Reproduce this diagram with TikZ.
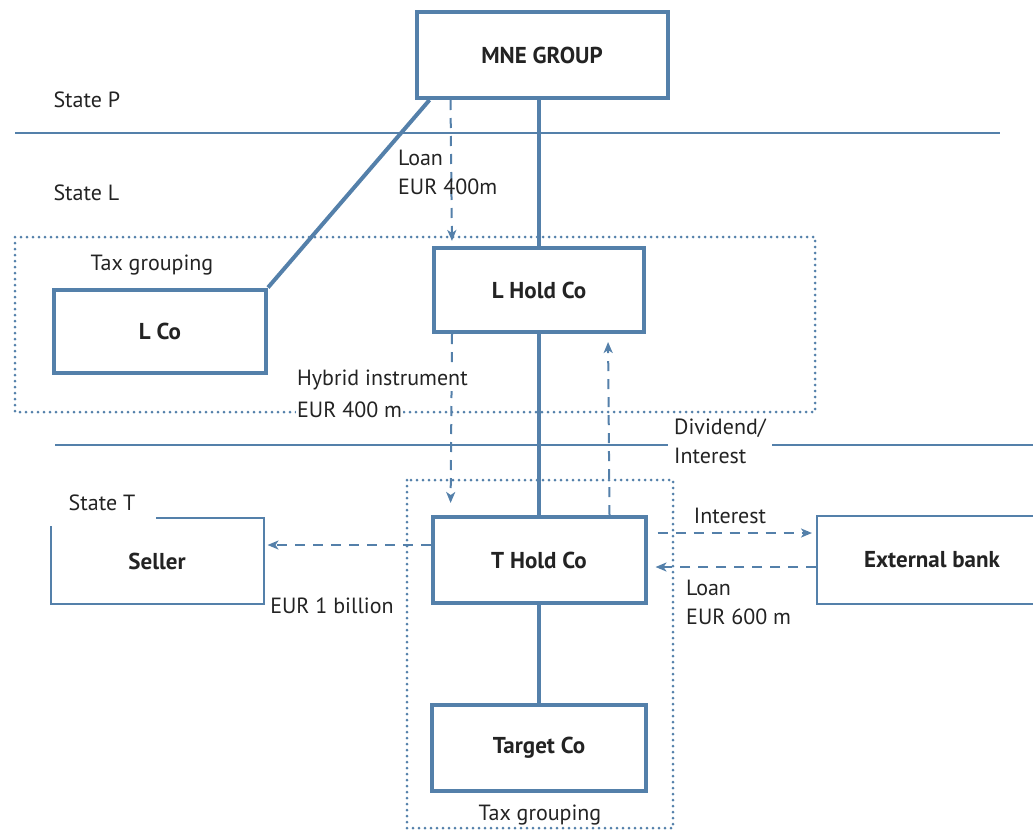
\documentclass[tikz,border=0pt]{standalone}
\usepackage{fontspec}
\setmainfont{PT Sans}
\usetikzlibrary{arrows.meta,positioning,calc}
\definecolor{steel}{RGB}{84,128,170}
\definecolor{ink}{RGB}{35,35,35}

\begin{document}
\begin{tikzpicture}[x=1pt,y=-1pt,
  every node/.style={text=ink, font=\fontsize{22}{29}\selectfont},
  company/.style={draw=steel, line width=4pt, fill=white, minimum width=210pt, minimum height=84pt, font=\fontsize{23}{29}\selectfont\bfseries},
  outsider/.style={company, line width=2pt},
  link/.style={steel, line width=4pt},
  border/.style={steel, line width=2.5pt},
  grouping/.style={steel, line width=3pt, line cap=round, dash pattern=on 0pt off 6pt},
  flow/.style={steel, line width=2pt, dash pattern=on 10pt off 8pt, -{Stealth[length=11pt,width=9pt,inset=3pt]}},
  cut/.style={fill=white, inner sep=1pt}]
  \useasboundingbox (0,0) rectangle (1033,833);

  % tax groupings and state borders
  \draw [grouping] (15,237) rectangle (815,412);
  \draw [grouping] (407,480) rectangle (673,828);
  \draw [border] (15,133) -- (1000,133);
  \draw [border] (55,445) -- (1033,445);

  % companies
  \node (mne) [company, minimum width=251pt, minimum height=86pt] at (542,55) {MNE GROUP};
  \node (lhold) [company] at (539,290) {L Hold Co};
  \node (lco) [company, minimum width=212pt, minimum height=83pt] at (160,331) {L Co};
  \node (thold) [company, minimum width=213pt, minimum height=86pt] at (539,560) {T Hold Co};
  \node (target) [company, minimum width=214pt, minimum height=86pt] at (539,748) {Target Co};
  \node (seller) [outsider, minimum width=213pt, minimum height=86pt] at (157,561) {Seller};
  \node (bank) [outsider, minimum width=230pt, minimum height=88pt] at (932,560) {External bank};

  % ownership
  \draw [link] (lhold.north) -- (lhold.north |- mne.south);
  \draw [link] (lhold.south) -- (thold.north);
  \draw [link] (thold.south) -- (target.north);
  \draw [link] (lco.north east) -- ($(mne.south west)+(15,0)$);

  % flows
  \draw [flow, shorten >=5pt] ($(mne.south west)+(36,0)$) -- ($(lhold.north west)+(20,0)$);
  \draw [flow, shorten >=12pt] ($(lhold.south west)+(20,0)$) -- ($(thold.north west)+(20,0)$);
  \draw [flow, shorten >=8pt] ($(thold.north east)+(-38,0)$) -- ($(lhold.south east)+(-38,0)$);
  \draw [flow, shorten >=3pt] ($(thold.west)+(0,-15)$) -- ($(seller.east)+(0,-16)$);
  \draw [flow, shorten <=10pt, shorten >=4pt] ($(thold.east)+(0,-27)$) -- ($(bank.west)+(0,-27)$);
  \draw [flow, shorten >=8pt] ($(bank.west)+(0,7)$) -- ($(thold.east)+(0,7)$);

  % labels
  \node (statep) [anchor=west] at (50,100) {State P};
  \node (statel) [anchor=west] at (50,193) {State L};
  \node (statet) [cut, minimum width=108pt, minimum height=46pt] at (102,503) {State T};
  \node (ltax) at (152,265) {Tax grouping};
  \node (loan) [anchor=north west, align=left, inner sep=0pt] at (398,150) {Loan\\EUR 400m};
  \node (hybrid) [cut, anchor=west] at (296,380) {Hybrid instrument};
  \node (hybridamt) [cut, anchor=west] at (296,410) {EUR 400 m};
  \node (divid) [cut, anchor=north west, align=left, inner xsep=6pt] at (668,418) {Dividend/\\Interest};
  \node (billion) at (332,606) {EUR 1 billion};
  \node (interest) at (730,516) {Interest};
  \node (loanbank) [anchor=north west, align=left, inner sep=0pt] at (686,580) {Loan\\EUR 600 m};
  \node (ttax) at (540,815) {Tax grouping};
\end{tikzpicture}
\end{document}
